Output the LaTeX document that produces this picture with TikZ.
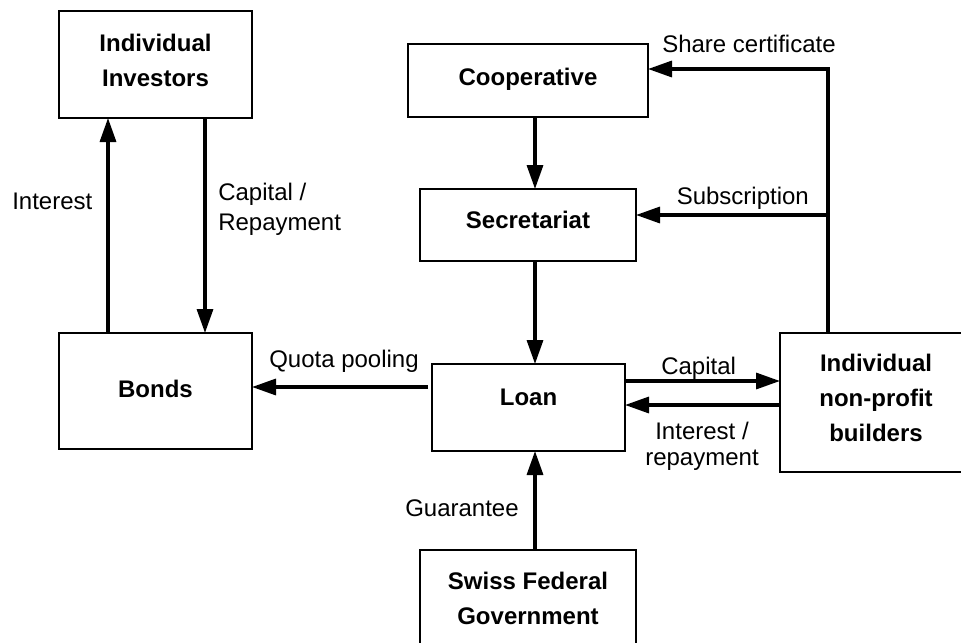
\documentclass[tikz,border=0pt]{standalone}
\usepackage{fontspec}
\setmainfont{Liberation Sans}
\usetikzlibrary{arrows.meta}
\begin{document}
\begin{tikzpicture}[x=0.75pt,y=-0.75pt,
  box/.style={draw, line width=0.9pt, inner sep=0pt, outer sep=0pt},
  btxt/.style={font=\fontsize{18}{26.25}\selectfont\bfseries, align=center, anchor=base, inner sep=0pt},
  lbl/.style={font=\fontsize{18}{21}\selectfont, inner sep=0pt, anchor=base west},
  arr/.style={line width=2.5pt, -{Triangle[length=18pt,width=12pt]}}]
\useasboundingbox (0,0) rectangle (961,643);
\clip (0,0) rectangle (961,643);
% boxes
\node[box, minimum width=144.75pt, minimum height=80.25pt] (inv) at (155.5,64.5) {};
\node[box, minimum width=180pt, minimum height=54.75pt] (coop) at (528,80.5) {};
\node[box, minimum width=162pt, minimum height=54pt] (sec) at (528,225) {};
\node[box, minimum width=144.75pt, minimum height=87pt] (bonds) at (155.5,391) {};
\node[box, minimum width=144.75pt, minimum height=65.25pt] (loan) at (528.5,407.5) {};
\node[box, minimum width=144pt, minimum height=104.25pt] (build) at (876,402.5) {};
\node[box, minimum width=162pt, minimum height=75pt] (gov) at (528,600) {};
% box texts (base anchor = last line)
\node[btxt] (tinv) at (155.5,86.7) {Individual\\Investors};
\node[btxt] (tcoop) at (528,85) {Cooperative};
\node[btxt] (tsec) at (528,228.7) {Secretariat};
\node[btxt] (tbonds) at (155.5,397.3) {Bonds};
\node[btxt] (tloan) at (528.5,405) {Loan};
\node[btxt] (tbuild) at (876,441.7) {Individual\\non-profit\\builders};
\node[btxt] (tgov) at (528,624.3) {Swiss Federal\\Government};
% guide coordinates
\coordinate (vi) at (108,0);
\coordinate (vc) at (205,0);
\coordinate (vm) at (535,0);
\coordinate (jtop) at (828,69);
\coordinate (jsub) at (828,215);
\coordinate (hq) at (0,387);
\coordinate (hc) at (0,381);
\coordinate (hr) at (0,405);
% connectors
\draw[arr] (bonds.north -| vi) -- (inv.south -| vi);
\draw[arr] (inv.south -| vc) -- (bonds.north -| vc);
\draw[arr] (coop.south -| vm) -- (sec.north -| vm);
\draw[arr] (sec.south -| vm) -- (loan.north -| vm);
\draw[arr] (gov.north -| vm) -- (loan.south -| vm);
\draw[arr] ([xshift=-3pt]loan.west |- hq) -- (bonds.east |- hq);
\draw[arr] (loan.east |- hc) -- (build.west |- hc);
\draw[arr] (build.west |- hr) -- (loan.east |- hr);
\draw[arr] (build.north -| jtop) -- (jtop) -- (coop.east |- jtop);
\draw[arr] (jsub) -- (sec.east |- jsub);
% labels
\node[lbl] (linterest) at (12,209) {Interest};
\node[lbl, align=left] (lcap) at (218,230) {Capital /\\[0.9pt]Repayment};
\node[lbl] (lshare) at (662,52.7) {Share certificate};
\node[lbl] (lsub) at (676.5,204) {Subscription};
\node[lbl] (lquota) at (269,367.3) {Quota pooling};
\node[lbl] (lcapital) at (661,374.3) {Capital};
\node[lbl, align=center, anchor=base] (lint) at (702,465) {Interest /\\[-1.5pt]repayment};
\node[lbl] (lguar) at (405,516) {Guarantee};
\end{tikzpicture}
\end{document}
